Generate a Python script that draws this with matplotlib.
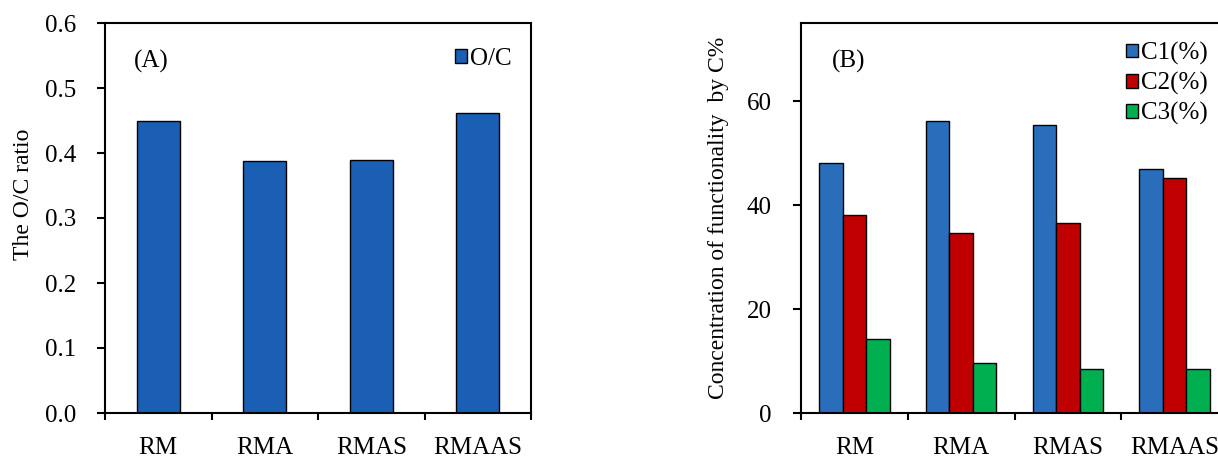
import matplotlib
matplotlib.use("Agg")
import matplotlib.pyplot as plt
import numpy as np
from matplotlib.patches import Patch

samples = ["RM", "RMA", "RMAS", "RMAAS"]
oc_ratio = [0.449, 0.387, 0.390, 0.461]

c1 = [48.1, 56.2, 55.4, 46.9]
c2 = [38.1, 34.6, 36.6, 45.1]
c3 = [14.2, 9.6, 8.5, 8.5]
series_names = ["C1(%)", "C2(%)", "C3(%)"]

plt.rcParams["font.family"] = ["Liberation Serif", "DejaVu Serif"]
plt.rcParams["font.size"] = 18

W, H = 1218, 459
fig = plt.figure(figsize=(W / 100, H / 100), dpi=100)


def frac_axes(x0, y_top, x1, y_bot):
    return fig.add_axes([x0 / W, 1 - y_bot / H, (x1 - x0) / W, (y_bot - y_top) / H])


def style_axes(ax, n):
    ax.set_xlim(-0.5, n - 0.5)
    for s in ax.spines.values():
        s.set_linewidth(1.5)
    ax.set_xticks(np.arange(n + 1) - 0.5)
    ax.set_xticklabels([])
    ax.set_xticks(np.arange(n), minor=True)
    ax.set_xticklabels(samples, minor=True)
    ax.tick_params(axis="x", which="major", direction="out", length=5, width=1.5)
    ax.tick_params(axis="x", which="minor", length=0, pad=17)
    ax.tick_params(axis="y", direction="out", length=6, width=1.5, pad=15)


# panel A
ax1 = frac_axes(105, 23, 531, 413)
x = np.arange(len(samples))
ax1.bar(x, oc_ratio, width=0.4, color="#1a5fb4", edgecolor="black", linewidth=1)
style_axes(ax1, len(samples))
ax1.set_ylim(0, 0.6)
ax1.set_yticks(np.arange(0, 0.61, 0.1))
ax1.set_yticklabels([f"{v:.1f}" for v in np.arange(0, 0.61, 0.1)])
ax1.set_ylabel("The O/C ratio", va="center", fontsize=17)
ax1.yaxis.set_label_coords(-0.192, 0.56)
ax1.text(0.108, 0.902, "(A)", transform=ax1.transAxes, ha="center", va="center")
ax1.legend(handles=[Patch(facecolor="#1a5fb4", edgecolor="black", linewidth=1, label="O/C")],
           loc="upper left", bbox_to_anchor=(0.822, 0.937), frameon=False,
           borderpad=0, borderaxespad=0, handlelength=0.48, handleheight=0.48,
           handletextpad=0.1)

# panel B
ax2 = frac_axes(801, 23, 1228, 413)
colors = ["#2a6ebb", "#c00000", "#00b050"]
bw = 0.22
for i, (vals, col, name) in enumerate(zip([c1, c2, c3], colors, series_names)):
    ax2.bar(x + (i - 1) * bw, vals, width=bw, color=col, edgecolor="black",
            linewidth=1, label=name)
style_axes(ax2, len(samples))
ax2.set_ylim(0, 75)
ax2.set_yticks([0, 20, 40, 60])
ax2.set_ylabel("Concentration of functionality  by C%", va="center", fontsize=17)
ax2.yaxis.set_label_coords(-0.194, 0.5)
ax2.text(0.112, 0.902, "(B)", transform=ax2.transAxes, ha="center", va="center")
ax2.legend(loc="upper left", bbox_to_anchor=(0.762, 0.952), frameon=False,
           borderpad=0, borderaxespad=0, handlelength=0.48, handleheight=0.48,
           handletextpad=0.1, labelspacing=0.28)

fig.savefig("out.png", dpi=100)
